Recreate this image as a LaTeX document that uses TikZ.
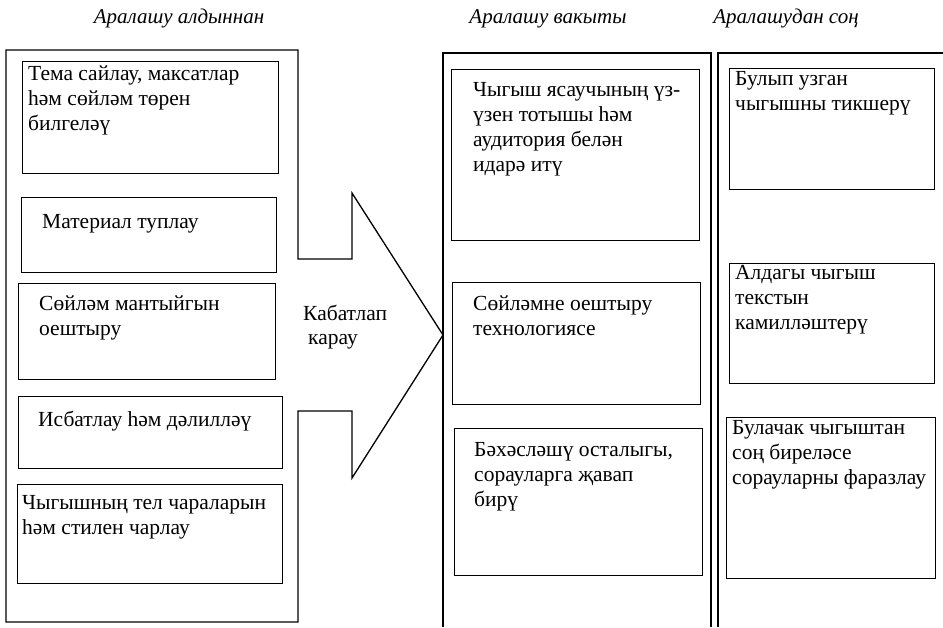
\documentclass[tikz,border=0pt]{standalone}
\usepackage{fontspec}
\setmainfont{Liberation Serif}
\usepackage{tikz}

\tikzset{
  frame/.style={draw,line width=1.3pt},
  stagebox/.style={draw,line width=1.2pt,anchor=north west,inner sep=0pt},
  stagetext/.style={anchor=north west,inner sep=0pt,align=left,
    font=\fontsize{21.5}{24.8}\selectfont,execute at begin node=\strut},
  headtext/.style={anchor=base,inner sep=0pt,font=\fontsize{21}{25}\selectfont\itshape}
}

\begin{document}
\begin{tikzpicture}[x=1pt,y=-1pt]
          \useasboundingbox (0,0) rectangle (943,627);
          % headings
          \node[headtext] (h1) at (179,23) {Аралашу алдыннан};
          \node[headtext] (h2) at (548,23) {Аралашу вакыты};
          \node[headtext] (h3) at (786,23) {Аралашудан соң};
          % left frame with the arrow
          \draw[frame] (298,259) -- (298,50) -- (6,50) -- (6,622) -- (298,622) -- (298,411)
            -- (352,411) -- (352,478) -- (443,335) -- (352,193) -- (352,259) -- cycle;
          \node[stagetext] (arr) at (303,304.6) {Кабатлап\\\hspace*{5pt}карау};
          % middle and right frames, open at the bottom
          \draw[frame] (443,627) -- (443,53) -- (711,53) -- (711,627);
          \draw[frame] (718,627) -- (718,53) -- (945,53);
          % left column
          \node[stagebox,minimum width=256pt,minimum height=112pt] (b1) at (22,61) {};
          \node[stagebox,minimum width=255pt,minimum height=75pt] (b2) at (21,197) {};
          \node[stagebox,minimum width=257pt,minimum height=96pt] (b3) at (18,283) {};
          \node[stagebox,minimum width=264pt,minimum height=72pt] (b4) at (18,396) {};
          \node[stagebox,minimum width=265pt,minimum height=99pt] (b5) at (17,484) {};
          \node[stagetext] (t1) at (28,65.6) {Тема сайлау, максатлар\\һәм сөйләм төрен\\билгеләү};
          \node[stagetext] (t2) at (42,210.6) {Материал туплау};
          \node[stagetext] (t3) at (39,295.6) {Сөйләм мантыйгын\\оештыру};
          \node[stagetext] (t4) at (38,408.6) {Исбатлау һәм дәлилләү};
          \node[stagetext] (t5) at (22,495.6) {Чыгышның тел чараларын\\һәм стилен чарлау};
          % middle column
          \node[stagebox,minimum width=248pt,minimum height=171pt] (m1) at (451,69) {};
          \node[stagebox,minimum width=248pt,minimum height=122pt] (m2) at (452,282) {};
          \node[stagebox,minimum width=248pt,minimum height=147pt] (m3) at (454,428) {};
          \node[stagetext] (u1) at (473,82.6) {Чыгыш ясаучының үз-\\үзен тотышы һәм\\аудитория белән\\идарә итү};
          \node[stagetext] (u2) at (473,295.6) {Сөйләмне оештыру\\технологиясе};
          \node[stagetext] (u3) at (474,442.6) {Бәхәсләшү осталыгы,\\сорауларга җавап\\бирү};
          % right column
          \node[stagebox,minimum width=205pt,minimum height=121pt] (r1) at (729,68) {};
          \node[stagebox,minimum width=205pt,minimum height=120pt] (r2) at (729,263) {};
          \node[stagebox,minimum width=209pt,minimum height=161pt] (r3) at (726,417) {};
          \node[stagetext] (v1) at (735,71.6) {Булып узган\\чыгышны тикшерү};
          \node[stagetext] (v2) at (735,265.6) {Алдагы чыгыш\\текстын\\камилләштерү};
          \node[stagetext] (v3) at (732,420.6) {Булачак чыгыштан\\соң биреләсе\\сорауларны фаразлау};
        \end{tikzpicture}
\end{document}
